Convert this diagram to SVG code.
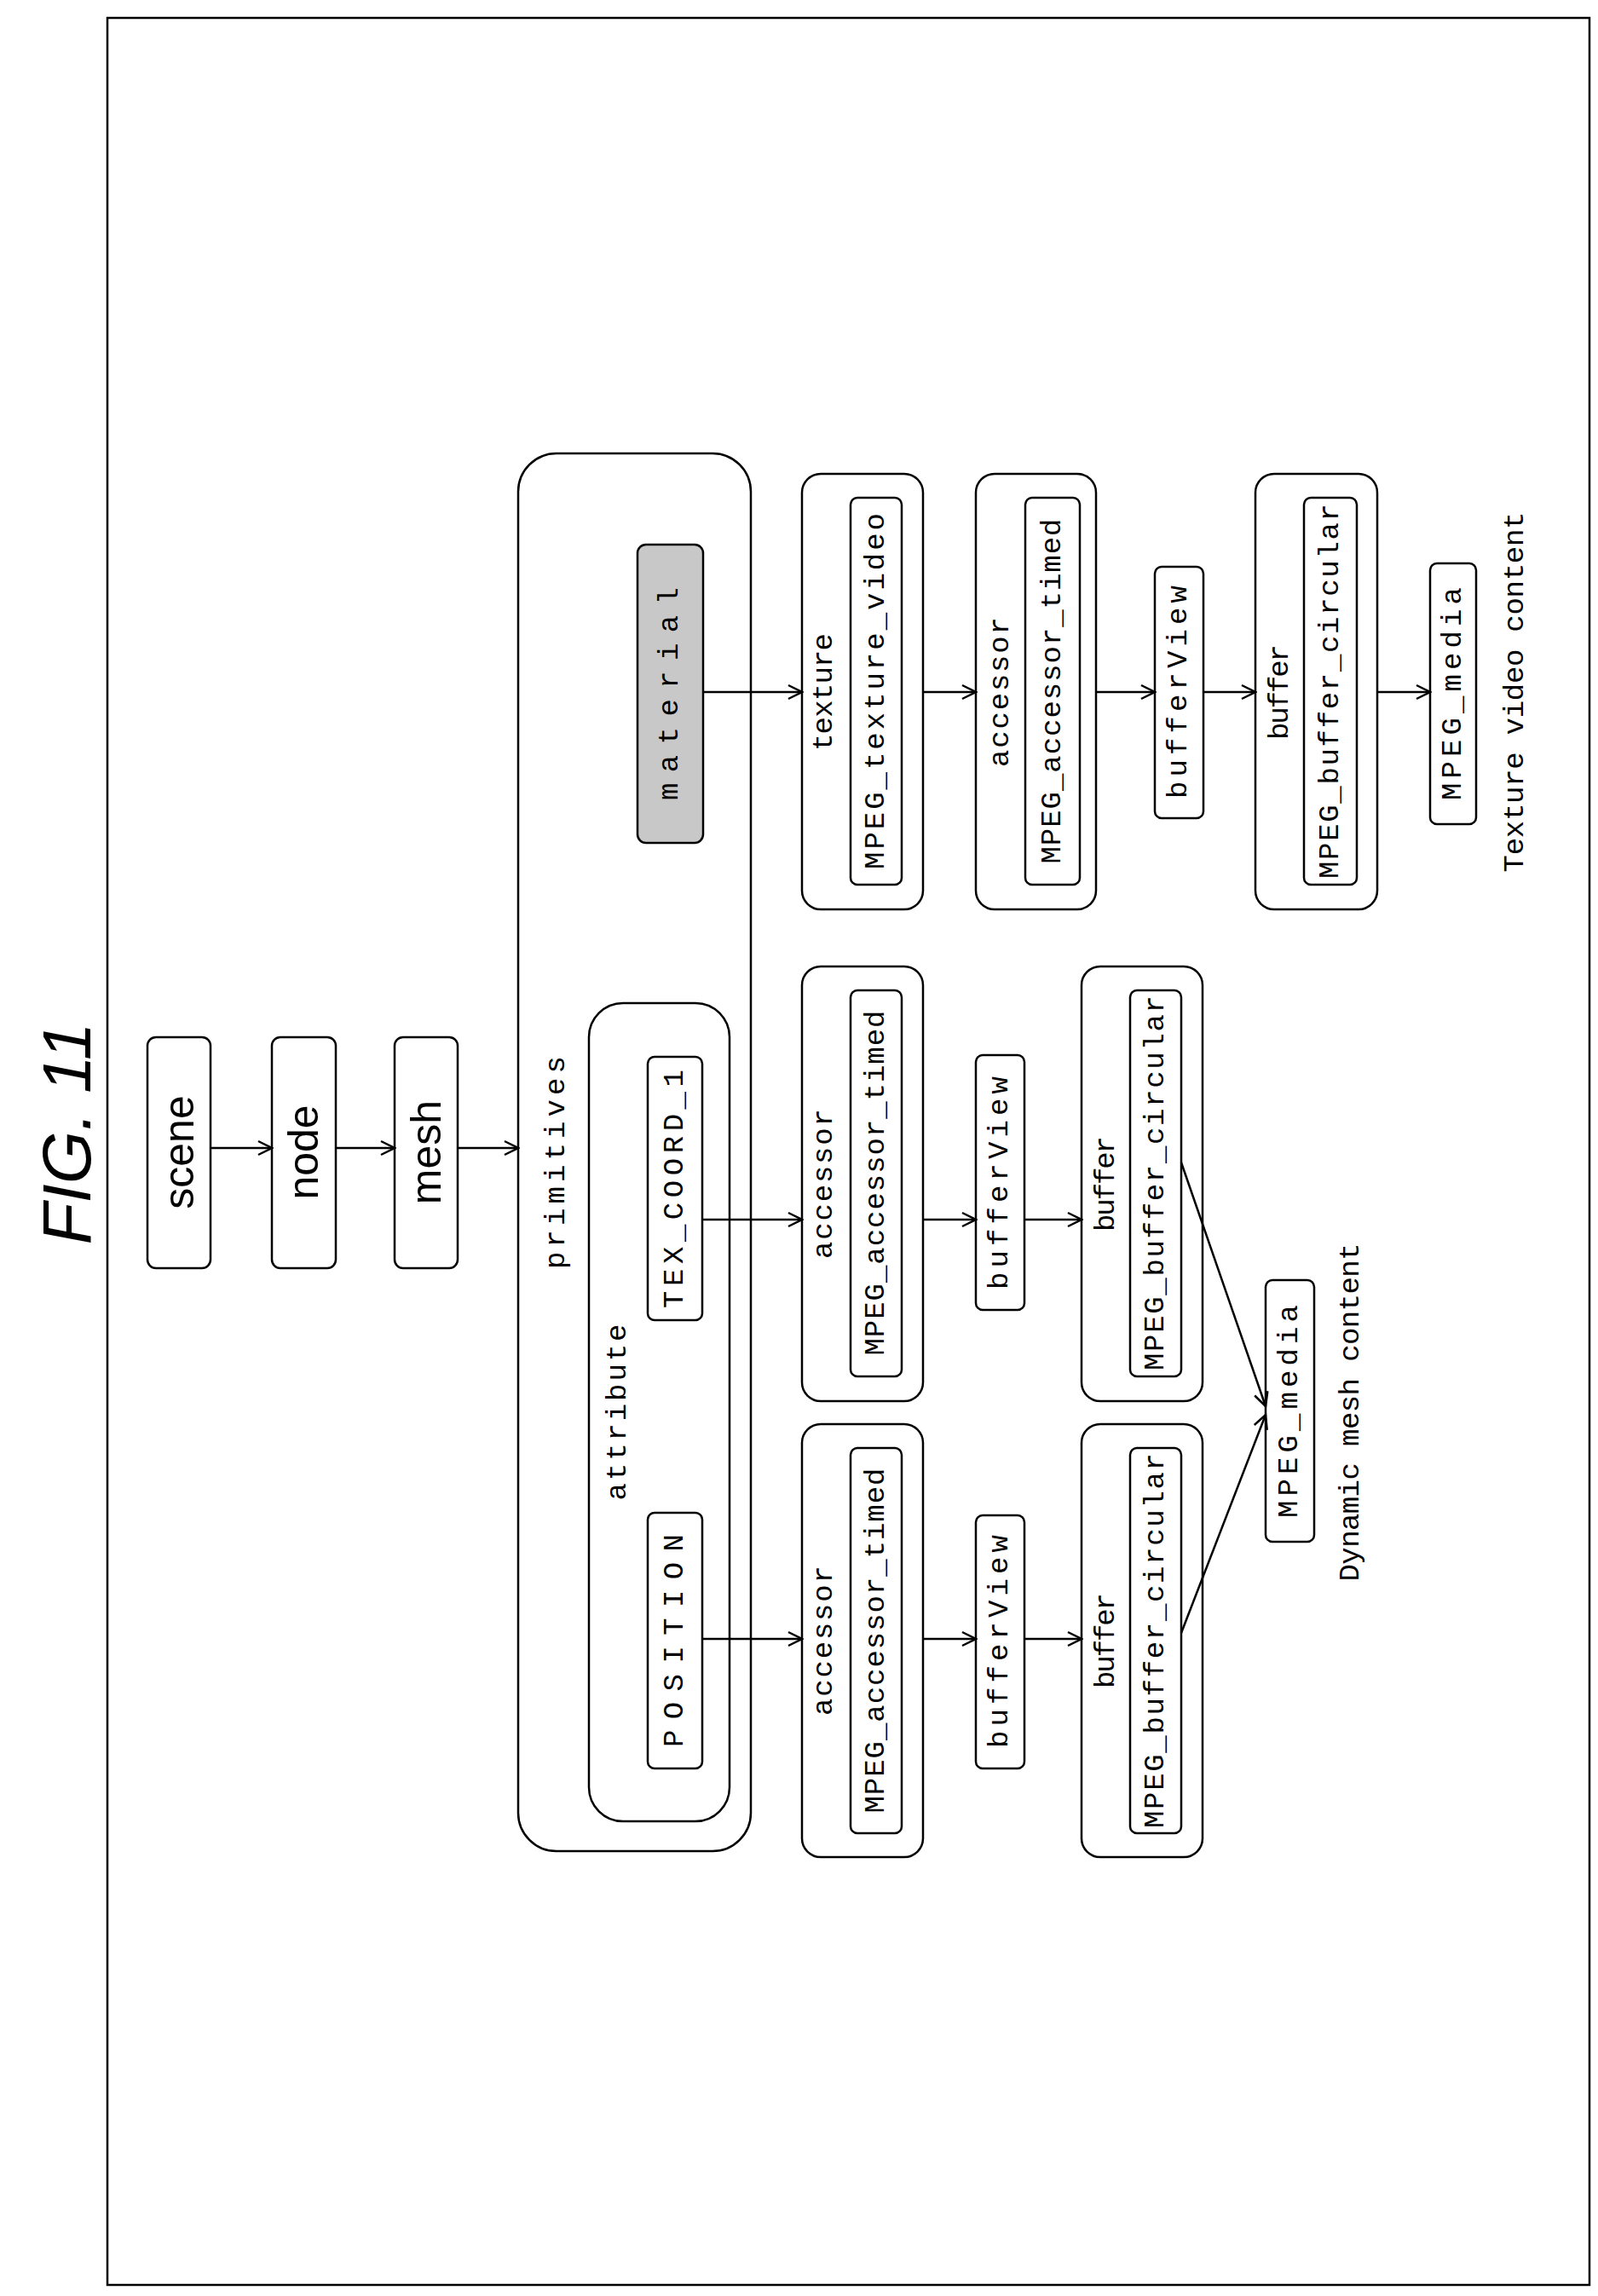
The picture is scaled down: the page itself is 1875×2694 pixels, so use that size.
<svg xmlns="http://www.w3.org/2000/svg" width="1875" height="2694" viewBox="0 0 1875 2694">
<style>
.b{fill:#fff;stroke:#000;stroke-width:2.5}
.g{fill:#c8c8c8;stroke:#000;stroke-width:2.5}
.t{font-family:"Liberation Mono",monospace;font-size:34px;text-anchor:middle;dominant-baseline:central}
.s{font-family:"Liberation Sans",sans-serif;font-size:50px;text-anchor:middle;dominant-baseline:central}
.c line{stroke:#000;stroke-width:2.5;marker-end:url(#a)}
</style>
<defs><marker id="a" markerWidth="20" markerHeight="20" refX="18" refY="10" orient="auto" markerUnits="userSpaceOnUse"><path d="M2,2 L18,10 L2,18" fill="none" stroke="#000" stroke-width="2.5"/></marker></defs>
<rect x="126" y="21" width="1739" height="2660" fill="none" stroke="#000" stroke-width="2.5"/>
<text transform="translate(78,1330) rotate(-90)" font-family="Liberation Sans,sans-serif" font-style="italic" font-size="80" text-anchor="middle" dominant-baseline="central">FIG. 11</text>
<g id="scene"><rect class="b" x="173" y="1217" width="74" height="271" rx="10"/><text class="s" transform="translate(210,1352) rotate(-90)">scene</text></g>
<g id="node"><rect class="b" x="319" y="1217" width="75" height="271" rx="10"/><text class="s" transform="translate(356,1352) rotate(-90)">node</text></g>
<g id="mesh"><rect class="b" x="463" y="1217" width="74" height="271" rx="10"/><text class="s" transform="translate(500,1352) rotate(-90)">mesh</text></g>
<g id="primitives"><rect class="b" x="608" y="532" width="273" height="1640" rx="45"/><text class="t" transform="translate(653,1364) rotate(-90)" textLength="250">primitives</text></g>
<g id="attribute"><rect class="b" x="691" y="1177" width="165" height="960" rx="40"/><text class="t" transform="translate(725,1657) rotate(-90)" textLength="207">attribute</text></g>
<g id="position"><rect class="b" x="760" y="1775" width="64" height="300" rx="8"/><text class="t" transform="translate(792,1925) rotate(-90)" textLength="250">POSITION</text></g>
<g id="texcoord"><rect class="b" x="760" y="1240" width="64" height="309" rx="8"/><text class="t" transform="translate(792,1395) rotate(-90)" textLength="280">TEX_COORD_1</text></g>
<g id="material"><rect class="g" x="748" y="639" width="77" height="350" rx="10"/><text class="t" transform="translate(786,814) rotate(-90)" textLength="250">material</text></g>
<g id="texture"><rect class="b" x="941" y="556" width="142" height="511" rx="22"/><text class="t" transform="translate(967,812) rotate(-90)" textLength="138">texture</text><rect class="b" x="998" y="584" width="60" height="454" rx="8"/><text class="t" transform="translate(1028,811) rotate(-90)" textLength="418">MPEG_texture_video</text></g>
<g id="accessor3"><rect class="b" x="1145" y="556" width="141" height="511" rx="22"/><text class="t" transform="translate(1174,812) rotate(-90)" textLength="176">accessor</text><rect class="b" x="1203" y="584" width="64" height="454" rx="8"/><text class="t" transform="translate(1235,811) rotate(-90)" textLength="405">MPEG_accessor_timed</text></g>
<g id="bufferview3"><rect class="b" x="1355" y="665" width="57" height="295" rx="8"/><text class="t" transform="translate(1383,812) rotate(-90)" textLength="250">bufferView</text></g>
<g id="buffer3"><rect class="b" x="1473" y="556" width="143" height="511" rx="22"/><text class="t" transform="translate(1502,812) rotate(-90)" textLength="112">buffer</text><rect class="b" x="1530" y="584" width="62" height="454" rx="8"/><text class="t" transform="translate(1561,811) rotate(-90)" textLength="440">MPEG_buffer_circular</text></g>
<g id="media2"><rect class="b" x="1678" y="661" width="54" height="306" rx="8"/><text class="t" transform="translate(1705,814) rotate(-90)" textLength="250">MPEG_media</text><text class="t" transform="translate(1778,812) rotate(-90)" textLength="423">Texture video content</text></g>
<g id="accessor2"><rect class="b" x="941" y="1134" width="142" height="510" rx="22"/><text class="t" transform="translate(967,1389) rotate(-90)" textLength="176">accessor</text><rect class="b" x="998" y="1162" width="60" height="453" rx="8"/><text class="t" transform="translate(1028,1388) rotate(-90)" textLength="405">MPEG_accessor_timed</text></g>
<g id="bufferview2"><rect class="b" x="1145" y="1238" width="57" height="299" rx="8"/><text class="t" transform="translate(1173,1388) rotate(-90)" textLength="250">bufferView</text></g>
<g id="buffer2"><rect class="b" x="1269" y="1134" width="142" height="510" rx="22"/><text class="t" transform="translate(1298,1389) rotate(-90)" textLength="112">buffer</text><rect class="b" x="1326" y="1162" width="60" height="453" rx="8"/><text class="t" transform="translate(1356,1388) rotate(-90)" textLength="440">MPEG_buffer_circular</text></g>
<g id="accessor1"><rect class="b" x="941" y="1671" width="142" height="508" rx="22"/><text class="t" transform="translate(967,1925) rotate(-90)" textLength="176">accessor</text><rect class="b" x="998" y="1699" width="60" height="452" rx="8"/><text class="t" transform="translate(1028,1925) rotate(-90)" textLength="405">MPEG_accessor_timed</text></g>
<g id="bufferview1"><rect class="b" x="1145" y="1778" width="57" height="297" rx="8"/><text class="t" transform="translate(1173,1926) rotate(-90)" textLength="250">bufferView</text></g>
<g id="buffer1"><rect class="b" x="1269" y="1671" width="142" height="508" rx="22"/><text class="t" transform="translate(1298,1925) rotate(-90)" textLength="112">buffer</text><rect class="b" x="1326" y="1699" width="60" height="452" rx="8"/><text class="t" transform="translate(1356,1925) rotate(-90)" textLength="440">MPEG_buffer_circular</text></g>
<g id="media1"><rect class="b" x="1485" y="1502" width="57" height="307" rx="8"/><text class="t" transform="translate(1513,1656) rotate(-90)" textLength="250">MPEG_media</text><text class="t" transform="translate(1585,1657) rotate(-90)" textLength="397">Dynamic mesh content</text></g>
<g class="c" id="connectors">
<line x1="247" y1="1347" x2="319" y2="1347"/>
<line x1="394" y1="1347" x2="463" y2="1347"/>
<line x1="537" y1="1347" x2="608" y2="1347"/>
<line x1="825" y1="812" x2="941" y2="812"/>
<line x1="1083" y1="812" x2="1145" y2="812"/>
<line x1="1286" y1="812" x2="1355" y2="812"/>
<line x1="1412" y1="812" x2="1473" y2="812"/>
<line x1="1616" y1="812" x2="1678" y2="812"/>
<line x1="824" y1="1431" x2="941" y2="1431"/>
<line x1="1083" y1="1431" x2="1145" y2="1431"/>
<line x1="1202" y1="1431" x2="1269" y2="1431"/>
<line x1="824" y1="1923" x2="941" y2="1923"/>
<line x1="1083" y1="1923" x2="1145" y2="1923"/>
<line x1="1202" y1="1923" x2="1269" y2="1923"/>
<line x1="1386" y1="1364" x2="1485" y2="1650"/>
<line x1="1386" y1="1916" x2="1485" y2="1660"/>
</g>
</svg>
